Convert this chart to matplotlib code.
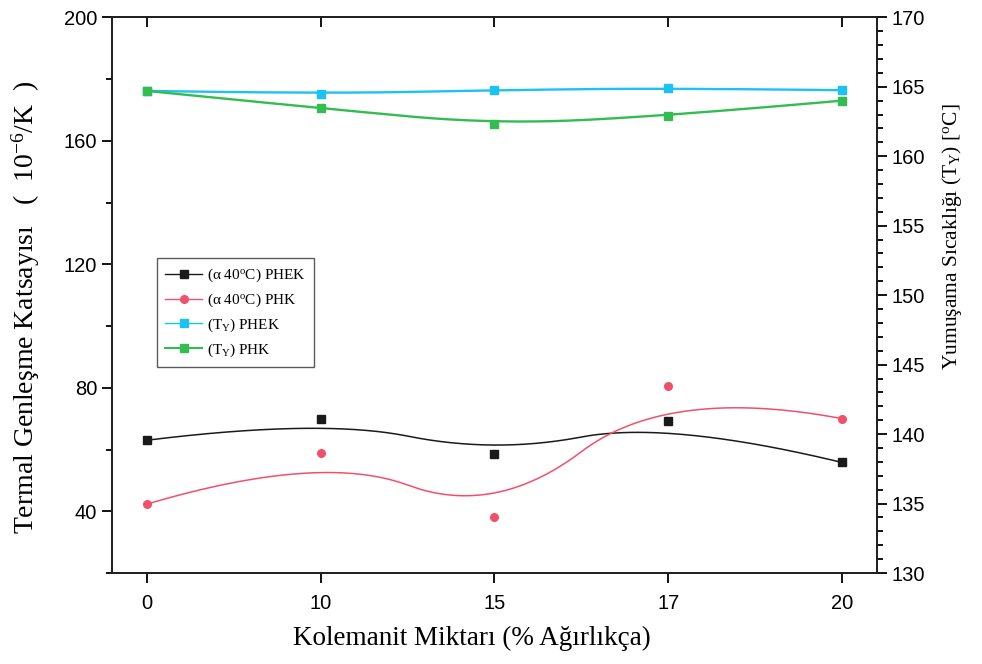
import numpy as np
import matplotlib
matplotlib.use('Agg')
from matplotlib import pyplot as plt
from matplotlib.ticker import MultipleLocator

# data
kolemanit = ['0', '10', '15', '17', '20']
alpha_phek = [63, 70, 58.7, 69.4, 55.8]
alpha_phk = [42.3, 59, 38, 80.6, 70]
ty_phek = [164.7, 164.5, 164.75, 164.9, 164.75]
ty_phk = [164.7, 163.45, 162.3, 162.9, 164.0]

serif = 'Liberation Serif'
sans = 'Liberation Sans'
plt.rcParams['mathtext.fontset'] = 'custom'
plt.rcParams['mathtext.rm'] = serif
plt.rcParams['mathtext.it'] = serif
plt.rcParams['mathtext.default'] = 'rm'


def bspline(xc, yc, k=2, n=300):
    # clamped B-spline (Origin style), data points used as control points
    xc = np.asarray(xc, float)
    yc = np.asarray(yc, float)
    m = len(xc)
    inner = np.linspace(0, 1, m - k + 1)[1:-1]
    t = np.concatenate([[0] * (k + 1), inner, [1] * (k + 1)])
    u = np.linspace(0, 1, n)
    u[-1] = 1 - 1e-12

    def basis(i, p, uu):
        if p == 0:
            return ((t[i] <= uu) & (uu < t[i + 1])).astype(float)
        a = np.zeros_like(uu)
        b = np.zeros_like(uu)
        if t[i + p] != t[i]:
            a = (uu - t[i]) / (t[i + p] - t[i]) * basis(i, p - 1, uu)
        if t[i + p + 1] != t[i + 1]:
            b = (t[i + p + 1] - uu) / (t[i + p + 1] - t[i + 1]) * basis(i + 1, p - 1, uu)
        return a + b

    N = np.array([basis(i, k, u) for i in range(m)])
    return N.T @ xc, N.T @ yc


xpos = np.arange(len(kolemanit))

fig = plt.figure(figsize=(9.82, 6.64), dpi=100)
ax = fig.add_axes([0.114, 0.137, 0.779, 0.837])
ax2 = ax.twinx()

c_black = '#1a1a1a'
c_red = '#f2506a'
c_cyan = '#1ec2f2'
c_green = '#33bd50'

for ys, col, mk, a in [(alpha_phek, c_black, 's', ax), (alpha_phk, c_red, 'o', ax),
                       (ty_phek, c_cyan, 's', ax2), (ty_phk, c_green, 's', ax2)]:
    sx, sy = bspline(xpos, ys)
    a.plot(sx, sy, color=col, lw=1.1 if col in (c_black, c_red) else 1.7)
    a.plot(xpos, ys, ls='none', marker=mk, color=col, ms=5.5)

ax.set_xlim(-0.2, 4.2)
ax.set_ylim(20, 200)
ax2.set_ylim(130, 170)

ax.set_xticks(xpos)
ax.set_xticklabels(kolemanit)
ax.set_yticks([40, 80, 120, 160, 200])
ax.yaxis.set_minor_locator(MultipleLocator(20))
ax2.yaxis.set_major_locator(MultipleLocator(5))
ax2.yaxis.set_minor_locator(MultipleLocator(1))

ax.tick_params(axis='x', which='major', direction='out', length=7, width=1.3,
               top=True, labelsize=14.5, pad=8)
ax.tick_params(axis='y', which='major', direction='out', length=7, width=1.3,
               labelsize=14.5, right=False)
ax.tick_params(axis='y', which='minor', direction='out', length=4, width=1.3, right=False)
ax2.tick_params(axis='y', which='major', direction='out', length=7, width=1.3, labelsize=14.5)
ax2.tick_params(axis='y', which='minor', direction='out', length=4, width=1.3)
for lab in ax.get_xticklabels() + ax.get_yticklabels() + ax2.get_yticklabels():
    lab.set_fontfamily(sans)

# top ticks point inward
for tk in ax.xaxis.get_major_ticks():
    tk.tick2line.set_marker(3)
    tk.tick2line.set_markersize(7)

for sp in list(ax.spines.values()) + list(ax2.spines.values()):
    sp.set_linewidth(1.4)
    sp.set_color('#222222')

ax.set_xlabel('Kolemanit Miktarı (% Ağırlıkça)', fontfamily=serif, fontsize=19.5)
ax.xaxis.set_label_coords(0.47, -0.095)
ax.set_ylabel('Termal Genleşme Katsayısı   (  10$^{-6}$/K  )', fontfamily=serif,
              fontsize=20)
ax.yaxis.set_label_coords(-0.092, 0.478)
ax2.set_ylabel('Yumuşama Sıcaklığı (T$_{Y}$) [$^{o}$C]', fontfamily=serif, fontsize=15.5,
               rotation=90)
ax2.yaxis.set_label_coords(1.083, 0.606)

handles = [
    plt.Line2D([], [], color=c_black, marker='s', ms=5.5, lw=1),
    plt.Line2D([], [], color=c_red, marker='o', ms=5.5, lw=1),
    plt.Line2D([], [], color=c_cyan, marker='s', ms=5.5, lw=1),
    plt.Line2D([], [], color=c_green, marker='s', ms=5.5, lw=1.5),
]
labels = ['(α 40$^{o}$C) PHEK', '(α 40$^{o}$C) PHK', '(T$_{Y}$) PHEK', '(T$_{Y}$) PHK']
leg = ax2.legend(handles, labels, loc='lower left', bbox_to_anchor=(0.059, 0.37),
                 prop={'family': serif, 'size': 11}, frameon=True, fancybox=False,
                 edgecolor='#333333', handlelength=2.4, handletextpad=0.3,
                 labelspacing=0.5, borderpad=0.55, borderaxespad=0)
leg.get_frame().set_linewidth(1.0)

fig.savefig('out.png', dpi=100)
